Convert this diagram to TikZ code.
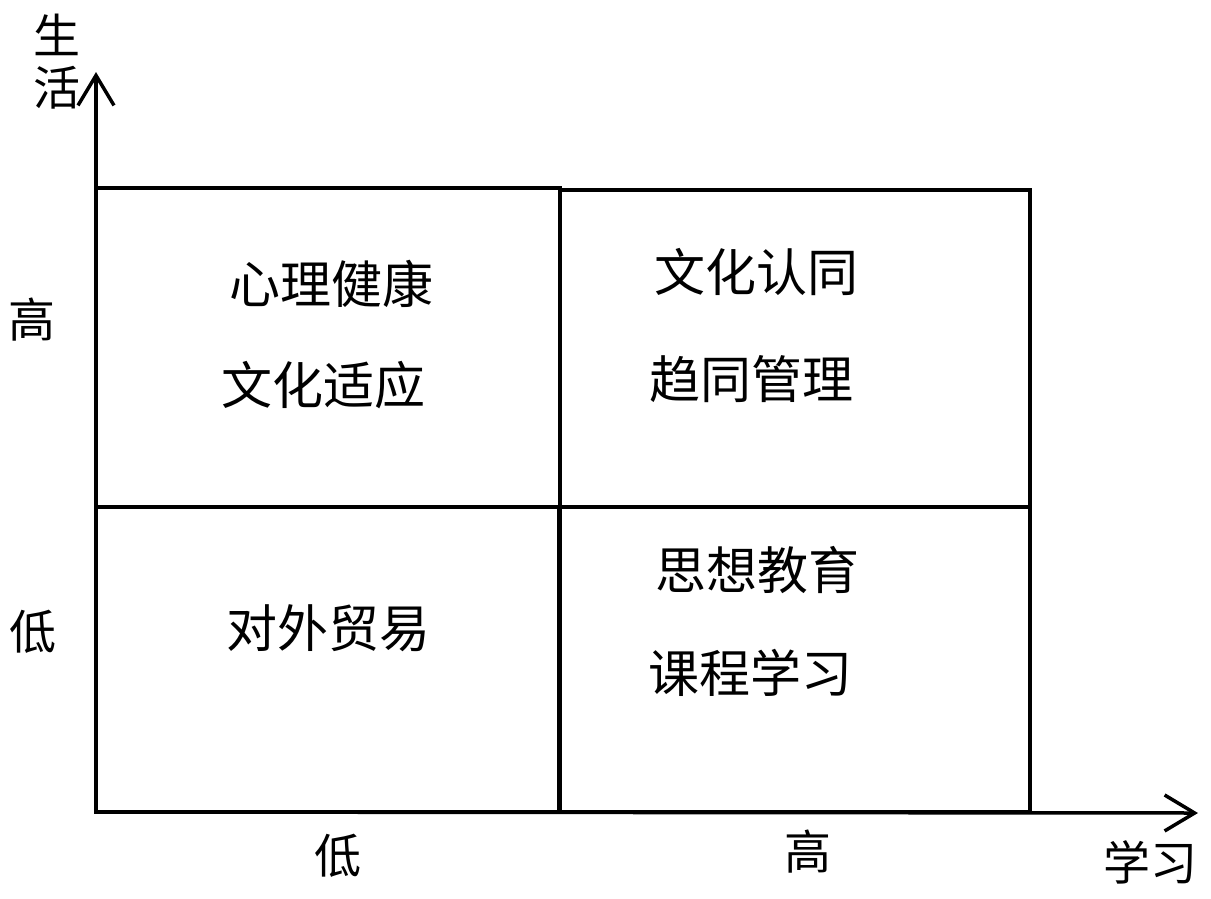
\documentclass[tikz,border=0pt]{standalone}
\usepackage{fontspec}
\newfontfamily\cjk{Noto Sans CJK SC}
\usetikzlibrary{arrows.meta}
\begin{document}
\begin{tikzpicture}[x=1pt,y=-1pt,
  cell/.style={draw=black,line width=3.5pt,minimum width=#1,inner sep=0pt,outer sep=0pt},
  boxtext/.style={font=\cjk\fontsize{51}{58}\selectfont,inner sep=0pt},
  axtext/.style={font=\cjk\fontsize{47}{54}\selectfont,inner sep=0pt},
  axis/.style={line width=3.5pt,-{Straight Barb[length=30pt,width=36pt]}}]
\useasboundingbox (0,0) rectangle (1211,898);
% cells
\node[cell=464pt,minimum height=319pt] (tl) at (328,347.5) {};
\node[cell=470pt,minimum height=317pt] (tr) at (795,348.5) {};
\node[cell=463pt,minimum height=305pt] (bl) at (327.5,659.5) {};
\node[cell=470pt,minimum height=305pt] (br) at (795,659.5) {};
% axes
\coordinate (o) at (96,812);
\coordinate (ytip) at (96,72);
\coordinate (xtip) at (1198,813);
\draw[axis] (o) -- (ytip);
\draw[axis] (o) -- (xtip);
% cell texts
\node[boxtext] (t1) at (331,284) {心理健康};
\node[boxtext] (t2) at (323,385) {文化适应};
\node[boxtext] (t3) at (756,272) {文化认同};
\node[boxtext] (t4) at (751,379) {趋同管理};
\node[boxtext] (t5) at (328,628) {对外贸易};
\node[boxtext] (t6) at (757,570) {思想教育};
\node[boxtext] (t7) at (750,673) {课程学习};
% axis labels
\node[axtext] (l1) at (57,35) {生};
\node[axtext] (l2) at (57,88) {活};
\node[axtext] (l3) at (32,320) {高};
\node[axtext] (l4) at (33,632) {低};
\node[axtext] (l5) at (338,856) {低};
\node[axtext] (l6) at (808,852) {高};
\node[axtext] (l7) at (1150,862) {学习};
\end{tikzpicture}
\end{document}
